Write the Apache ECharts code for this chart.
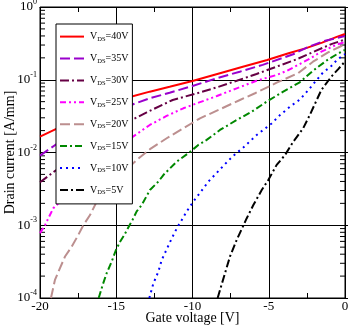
<!DOCTYPE html>
<html><head><meta charset="utf-8">
<script src="https://cdn.jsdelivr.net/npm/echarts@6/dist/echarts.min.js"></script>
<style>html,body{margin:0;padding:0;background:#fff}#c{width:348px;height:325px}</style>
</head><body><div id="c"></div>
<script>
// ---- data (gate voltage [V], drain current [A/mm]) ----
const seriesNames = ['40V','35V','30V','25V','20V','15V','10V','5V'];
const vg40 = [-20,-19.0,-14.1,-12.8,-11.5,-10.0,-8.2,-6.7,-5.1,-3.7,-2.6,-1.5,-0.5,0];
const id40 = [0.0165,0.0208,0.058,0.0686,0.0802,0.0962,0.123,0.151,0.187,0.231,0.27,0.324,0.391,0.426];
const vg35 = [-20,-19.0,-13.9,-12.8,-11.5,-10.0,-8.4,-6.9,-5.4,-3.4,-2.4,-1.3,0];
const id35 = [0.00904,0.0127,0.046,0.0556,0.0664,0.082,0.105,0.129,0.16,0.224,0.284,0.344,0.398];
const vg30 = [-20,-19.0,-13.9,-13.0,-11.3,-9.7,-8.4,-7.1,-5.8,-4.5,-3.2,-2.0,-0.9,0];
const id30 = [0.0039,0.0056,0.0286,0.0357,0.0527,0.0652,0.0787,0.097,0.12,0.151,0.19,0.245,0.309,0.357];
const vg25 = [-20,-19.67,-19.46,-19.13,-18.8,-14.0,-12.8,-11.7,-10.6,-9.6,-8.4,-7.1,-5.8,-4.5,-3.8,-2.4,-1.55,-0.5,0];
const id25 = [0.00078,0.001,0.00124,0.00171,0.002,0.016,0.0239,0.0318,0.0405,0.0484,0.0598,0.0762,0.097,0.116,0.133,0.19,0.243,0.307,0.33];
const vg20 = [-19.28,-19.02,-18.69,-18.36,-17.92,-17.49,-17.16,-16.72,-16.28,-15.95,-13.66,-12.79,-11.69,-10.6,-9.51,-8.2,-6.89,-5.9,-4.48,-3.08,-2.1,-1.11,-0.24,0];
const id20 = [0.0001,0.000177,0.000257,0.000372,0.000507,0.000735,0.001,0.00138,0.00211,0.00288,0.00789,0.0111,0.0157,0.0215,0.0295,0.0393,0.0527,0.0652,0.0912,0.123,0.177,0.238,0.291,0.30];
const vg15 = [-16.15,-15.89,-15.63,-15.30,-15.02,-14.75,-14.47,-14.21,-13.92,-13.66,-13.33,-12.79,-12.24,-11.91,-11.04,-10.16,-9.62,-9.07,-8.2,-7.1,-6.12,-5.13,-4.05,-2.97,-2.10,-1.11,-0.46,0];
const id15 = [0.0001,0.000151,0.000219,0.000316,0.000457,0.000594,0.000735,0.000933,0.0012,0.00155,0.0019,0.00305,0.00398,0.0049,0.00748,0.0102,0.0127,0.0149,0.0204,0.028,0.0363,0.0501,0.0686,0.0923,0.133,0.19,0.229,0.257];
const vg10 = [-12.83,-12.57,-12.24,-12.02,-11.69,-11.36,-11.0,-10.77,-10.38,-9.95,-9.46,-8.96,-8.41,-7.87,-7.32,-6.67,-5.79,-4.81,-4.26,-3.6,-2.95,-2.4,-1.95,-1.44,-0.94,-0.5,0];
const id10 = [0.0001,0.000158,0.00023,0.000333,0.000468,0.000661,0.000933,0.00112,0.00155,0.00211,0.00288,0.00398,0.00525,0.00692,0.00904,0.0117,0.0174,0.0251,0.0327,0.0427,0.0537,0.0723,0.094,0.126,0.151,0.19,0.226];
const vg5 = [-8.35,-7.87,-7.54,-7.10,-6.45,-6.01,-5.46,-5.03,-4.48,-3.93,-3.39,-2.75,-2.32,-1.99,-1.55,-0.9,-0.46,0];
const id5 = [0.0001,0.000219,0.000372,0.00063,0.00124,0.0019,0.00305,0.00419,0.00676,0.00925,0.0141,0.0214,0.0324,0.0457,0.0724,0.11,0.139,0.178];
const xTicks = [-20,-15,-10,-5,0];
const yDecades = [-4,-3,-2,-1,0];

const vgs = [vg40,vg35,vg30,vg25,vg20,vg15,vg10,vg5];
const ids = [id40,id35,id30,id25,id20,id15,id10,id5];
const colors = ['#ff0000','#9900cc','#660044','#ff00ff','#bc8f8f','#008800','#0000ff','#000000'];
const dashes = ['solid',[10,4],[9,3,2,3],[6,3,2,3,2,3],[10,4],[7,3,2,3],[2,4],[8,3,2,3]];

const SERIF = '"Liberation Serif","DejaVu Serif",serif';

// minor log ticks (2..9 x decade)
const minorVals = [];
for (let k = -4; k < 0; k++) for (let m = 2; m <= 9; m++) minorVals.push([-20, m * Math.pow(10, k)]);

const series = seriesNames.map((n, i) => ({
  name: n, type: 'line', showSymbol: false, symbol: 'none',
  data: vgs[i].map((v, j) => [v, ids[i][j]]),
  lineStyle: { color: colors[i], width: 2, type: dashes[i] },
  itemStyle: { color: colors[i] },
  z: 3
}));
series.push({
  type: 'custom', silent: true, z: 2,
  data: minorVals,
  renderItem: (params, api) => {
    const v = api.value(1);
    const a = api.coord([-20, v]);
    const b = api.coord([0, v]);
    return { type: 'group', children: [
      { type: 'line', shape: { x1: a[0], y1: a[1], x2: a[0] + 5, y2: a[1] }, style: { stroke: '#000', lineWidth: 1 } },
      { type: 'line', shape: { x1: b[0] - 5, y1: b[1], x2: b[0], y2: b[1] }, style: { stroke: '#000', lineWidth: 1 } }
    ]};
  }
});

const chart = echarts.init(document.getElementById('c'), null, { renderer: 'canvas' });
chart.setOption({
  animation: false,
  backgroundColor: '#fff',
  grid: { left: 40, right: 3, top: 7, bottom: 27, show: true, borderColor: '#000', borderWidth: 1,
          containLabel: false, outerBoundsMode: 'none' },
  xAxis: [{
    type: 'value', min: xTicks[0], max: xTicks[xTicks.length - 1], interval: 5, position: 'bottom',
    axisLine: { show: true, lineStyle: { color: '#000', width: 1 } },
    axisTick: { show: true, inside: true, length: 5, lineStyle: { color: '#000' } },
    minorTick: { show: true, splitNumber: 2, length: 5, lineStyle: { color: '#000' } },
    splitLine: { show: true, lineStyle: { color: '#000', width: 1 } },
    axisLabel: { color: '#000', fontFamily: SERIF, fontSize: 13, margin: 2 },
    name: 'Gate voltage [V]', nameLocation: 'middle', nameGap: 13, nameMoveOverlap: false,
    nameTextStyle: { color: '#000', fontFamily: SERIF, fontSize: 14, verticalAlign: 'top' }
  }, {
    type: 'value', min: -20, max: 0, interval: 5, position: 'top',
    axisLine: { show: true, lineStyle: { color: '#000' } },
    axisTick: { show: true, inside: true, length: 5, lineStyle: { color: '#000' } },
    minorTick: { show: true, splitNumber: 2, length: 5, lineStyle: { color: '#000' } },
    splitLine: { show: false }, axisLabel: { show: false }
  }],
  yAxis: [{
    type: 'log', logBase: 10, min: Math.pow(10, yDecades[0]), max: Math.pow(10, yDecades[yDecades.length - 1]),
    axisLine: { show: true, lineStyle: { color: '#000' } },
    axisTick: { show: true, inside: true, length: 8, lineStyle: { color: '#000' } },
    splitLine: { show: true, lineStyle: { color: '#000', width: 1 } },
    axisLabel: {
      color: '#000', margin: 3,
      formatter: v => '{a|10}{s|' + Math.round(Math.log10(v)) + '}',
      rich: {
        a: { fontFamily: SERIF, fontSize: 13, lineHeight: 18, color: '#000' },
        s: { fontFamily: SERIF, fontSize: 8, lineHeight: 8, verticalAlign: 'top', color: '#000' }
      }
    },
    name: 'Drain current [A/mm]', nameLocation: 'middle', nameGap: 23, nameMoveOverlap: false,
    nameTextStyle: { color: '#000', fontFamily: SERIF, fontSize: 14 }
  }],
  legend: {
    orient: 'vertical', left: 56, top: 24,
    data: seriesNames,
    itemWidth: 24, itemHeight: 14, itemGap: 10.3, padding: [7, 4, 8, 3],
    backgroundColor: '#fff', borderColor: '#000', borderWidth: 1,
    inactiveColor: '#000',
    itemStyle: { opacity: 0 },
    formatter: n => '{a|V}{s|DS}{a|=' + n + '}',
    textStyle: {
      color: '#000', padding: [0, 0, 0, 1],
      rich: {
        a: { fontFamily: SERIF, fontSize: 10, lineHeight: 12, color: '#000' },
        s: { fontFamily: SERIF, fontSize: 6.5, lineHeight: 6, verticalAlign: 'bottom', color: '#000' }
      }
    }
  },
  series: series
});
</script></body></html>
